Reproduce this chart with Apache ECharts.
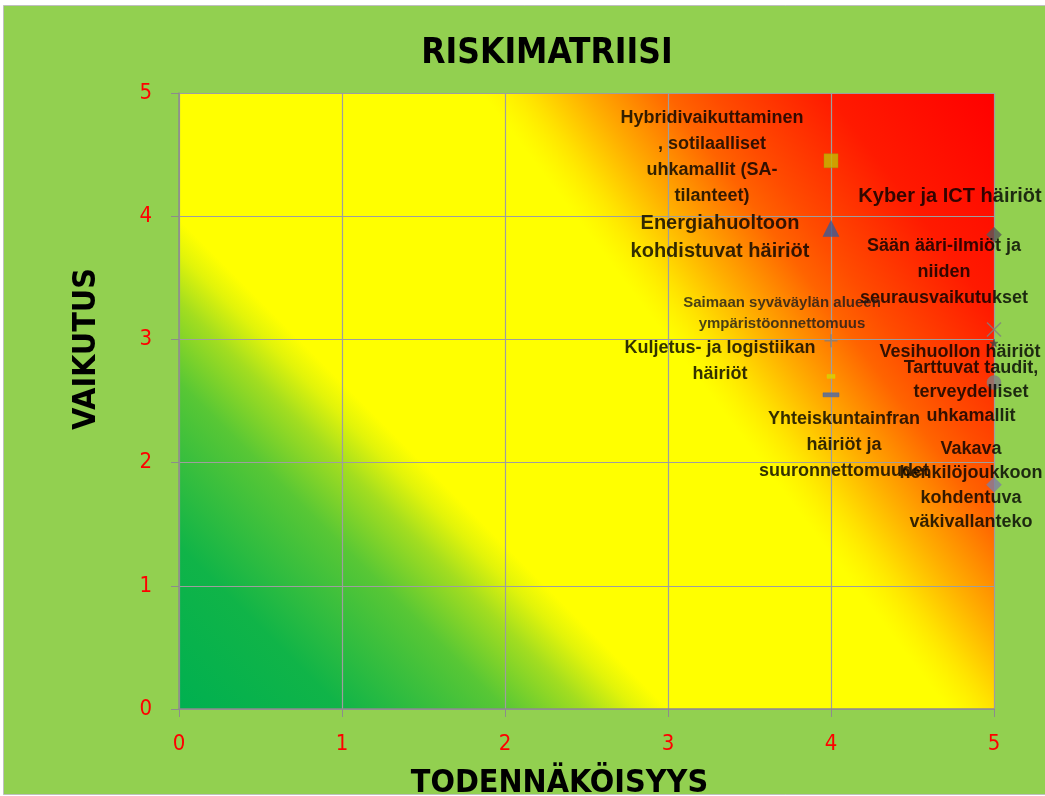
<!DOCTYPE html>
<html>
<head>
<meta charset="utf-8">
<title>Riskimatriisi</title>
<script src="https://cdn.jsdelivr.net/npm/echarts@6/dist/echarts.min.js"></script>
<style>
  html, body { margin: 0; padding: 0; background: #fff; }
  #main { width: 1045px; height: 796px; }
</style>
</head>
<body>
<div id="main"></div>
<script>
// risks: name, likelihood (x), impact (y)
var riskNames = [
    'Hybridivaikuttaminen\n, sotilaalliset\nuhkamallit (SA-\ntilanteet)',
    'Energiahuoltoon\nkohdistuvat häiriöt',
    'Kyber ja ICT häiriöt',
    'Sään ääri-ilmiöt ja\nniiden\nseurausvaikutukset',
    'Saimaan syväväylän alueen\nympäristöonnettomuus',
    'Kuljetus- ja logistiikan\nhäiriöt',
    'Yhteiskuntainfran\nhäiriöt ja\nsuuronnettomuudet',
    'Vesihuollon häiriöt',
    'Tarttuvat taudit,\nterveydelliset\nuhkamallit',
    'Vakava\nhenkilöjoukkoon\nkohdentuva\nväkivallanteko'
];
var likelihood = [4, 4, 5, 5, 4, 4, 4, 5, 5, 5];
var impact = [4.45, 3.9, 3.85, 3.08, 2.99, 2.7, 2.55, 2.97, 2.65, 1.82];
var axisTicks = [0, 1, 2, 3, 4, 5];

// marker look + label placement (pixels) for each risk
var markers = [
    {symbol: 'rect', size: 14, color: '#C4BC00', border: '#A09A00'},
    {symbol: 'triangle', size: 16, color: '#3C5A96'},
    {symbol: 'diamond', size: 15, color: '#595959'},
    {symbol: 'path://M0,0L10,10M10,0L0,10', size: 14, color: 'none', border: '#808080', bw: 1.5},
    {symbol: 'path://M5,0L5,10M0,5L10,5', size: 13, color: 'none', border: '#7F7F7F', bw: 1.5},
    {symbol: 'rect', size: [8, 4], color: '#D8D400'},
    {symbol: 'rect', size: [16, 4], color: '#4A68A6'},
    {symbol: 'path://M5,0L6.2,3.8L10,3.8L7,6.2L8.1,10L5,7.7L1.9,10L3,6.2L0,3.8L3.8,3.8Z', size: 8, color: '#404040'},
    {symbol: 'circle', size: 14, color: '#808080'},
    {symbol: 'diamond', size: 15, color: '#7F80A0'}
];
var labelLayout = [
    {dx: -119, dy: -4, fs: 18, lh: 26},
    {dx: -111, dy: 9, fs: 20, lh: 28},
    {dx: -44, dy: -38, fs: 20, lh: 26},
    {dx: -50, dy: -58, fs: 18, lh: 26},
    {dx: -49, dy: -27, fs: 15, lh: 21, thin: true},
    {dx: -111, dy: -15, fs: 18, lh: 26},
    {dx: 13, dy: 50, fs: 18, lh: 26},
    {dx: -34, dy: 9, fs: 18, lh: 24},
    {dx: -23, dy: 10, fs: 18, lh: 24},
    {dx: -23, dy: 1, fs: 18, lh: 24.5}
];

var narrow = "'Liberation Sans Narrow', 'DejaVu Sans Condensed', sans-serif";

var chart = echarts.init(document.getElementById('main'));

// green -> yellow part of the background (45 degree band)
var greenYellow = new echarts.graphic.LinearGradient(179, 709, 894.5, -6.5, [
    {offset: 0, color: '#00B050'},
    {offset: 0.114, color: '#10B448'},
    {offset: 0.228, color: '#58C735'},
    {offset: 0.284, color: '#A2DD20'},
    {offset: 0.319, color: '#E2F40A'},
    {offset: 0.342, color: '#FFFF00'},
    {offset: 1, color: '#FFFF00'}
], true);

// yellow -> red part, laid over it
var yellowRed = new echarts.graphic.LinearGradient(0, 1, 1, 0, [
    {offset: 0, color: 'rgba(255,235,0,0)'},
    {offset: 0.6, color: 'rgba(255,235,0,0)'},
    {offset: 0.64, color: 'rgba(255,222,0,1)'},
    {offset: 0.68, color: '#FFAE00'},
    {offset: 0.71, color: '#FF8C00'},
    {offset: 0.745, color: '#FF6400'},
    {offset: 0.78, color: '#FF4C00'},
    {offset: 0.87, color: '#FF1A00'},
    {offset: 1, color: '#FF0000'}
]);

var series = [{
    type: 'scatter',
    silent: true,
    z: -1,
    data: [],
    markArea: {
        silent: true,
        z: -1,
        itemStyle: {color: yellowRed, borderWidth: 0},
        data: [[
            {coord: [axisTicks[0], axisTicks[0]]},
            {coord: [axisTicks[axisTicks.length - 1], axisTicks[axisTicks.length - 1]]}
        ]]
    }
}];

for (var i = 0; i < riskNames.length; i++) {
    var m = markers[i];
    var l = labelLayout[i];
    series.push({
        type: 'scatter',
        name: riskNames[i],
        clip: false,
        symbol: m.symbol,
        symbolSize: m.size,
        itemStyle: {
            color: m.color,
            borderColor: m.border || m.color,
            borderWidth: m.bw || 0.5
        },
        label: {
            show: true,
            position: 'inside',
            offset: [l.dx, l.dy],
            align: 'center',
            verticalAlign: 'middle',
            formatter: riskNames[i],
            color: l.thin ? '#1a1a1a' : '#000',
            fontFamily: "'Liberation Sans', Arial, sans-serif",
            fontWeight: 'bold',
            fontSize: l.fs,
            lineHeight: l.lh
        },
        z: 5,
        data: [[likelihood[i], impact[i]]]
    });
}

var axisCommon = {
    type: 'value',
    min: axisTicks[0],
    max: axisTicks[axisTicks.length - 1],
    interval: 1,
    z: 1,
    axisLine: {show: true, lineStyle: {color: '#8C8C8C', width: 1.5}},
    axisTick: {show: true, length: 8, lineStyle: {color: '#8C8C8C'}},
    splitLine: {show: true, lineStyle: {color: '#9E9E9E', width: 1.2}},
    nameLocation: 'middle',
    nameTextStyle: {
        color: '#000',
        fontFamily: narrow,
        fontWeight: 'bold',
        fontSize: 32
    }
};

var option = {
    backgroundColor: '#fff',
    animation: false,
    graphic: [{
        type: 'rect',
        z: -100,
        silent: true,
        shape: {x: 3.5, y: 5.5, width: 1044, height: 789},
        style: {fill: '#92D050', stroke: '#BFBFBF', lineWidth: 1}
    }],
    title: {
        text: 'RISKIMATRIISI',
        left: 542,
        top: 31,
        textAlign: 'center',
        textStyle: {
            color: '#000',
            fontFamily: narrow,
            fontWeight: 'bold',
            fontSize: 35
        }
    },
    grid: {
        left: 179,
        right: 51,
        top: 93,
        bottom: 87,
        z: -2,
        outerBoundsMode: 'none',
        containLabel: false,
        show: true,
        borderWidth: 0,
        backgroundColor: greenYellow
    },
    xAxis: echarts.util.merge({
        name: 'TODENNÄKÖISYYS',
        nameGap: 59,
        nameTextStyle: {padding: [0, 54, 0, 0]},
        axisLabel: {
            color: '#FF0000',
            fontFamily: narrow,
            fontSize: 22,
            margin: 24
        }
    }, axisCommon),
    yAxis: echarts.util.merge({
        name: 'VAIKUTUS',
        nameGap: 76,
        nameTextStyle: {padding: [0, 0, 0, 104]},
        axisLabel: {
            color: '#FF0000',
            fontFamily: narrow,
            fontSize: 22,
            margin: 27
        }
    }, axisCommon),
    series: series
};

chart.setOption(option);
</script>
</body>
</html>
